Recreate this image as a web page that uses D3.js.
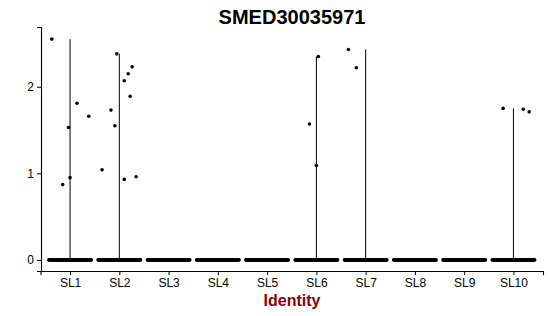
<!DOCTYPE html>
<html>
<head>
<meta charset="utf-8">
<script src="https://cdn.jsdelivr.net/npm/d3@7"></script>
<style>
  body { margin: 0; background: #fff; }
  text { font-family: "Liberation Sans", Arial, sans-serif; }
</style>
</head>
<body>
<svg id="chart" width="550" height="316"></svg>
<script>
// clusters on the x axis
var groups = ["SL1", "SL2", "SL3", "SL4", "SL5", "SL6", "SL7", "SL8", "SL9", "SL10"];

// expression of the non zero cells per cluster
var exprSL1 = [2.55, 0.87, 0.95, 1.53, 1.81, 1.66];
var exprSL2 = [2.38, 1.73, 1.55, 2.07, 2.15, 2.23, 1.89, 1.04, 0.93, 0.96];
var exprSL6 = [2.35, 1.57, 1.09];
var exprSL7 = [2.43, 2.22];
var exprSL10 = [1.75, 1.74, 1.71];

// jitter of those points, in fractions of a category
var jitSL1 = [-0.37, -0.15, 0.0, -0.03, 0.14, 0.38];
var jitSL2 = [-0.05, -0.17, -0.09, 0.1, 0.18, 0.26, 0.22, -0.35, 0.1, 0.34];
var jitSL6 = [0.04, -0.14, 0.0];
var jitSL7 = [-0.35, -0.19];
var jitSL10 = [-0.21, 0.2, 0.32];

// cells with zero expression in each cluster
var zeroCount = [80, 80, 80, 80, 80, 80, 80, 80, 80, 80];

var yTicks = [0, 1, 2];

var nonZero = {
  SL1: [exprSL1, jitSL1],
  SL2: [exprSL2, jitSL2],
  SL6: [exprSL6, jitSL6],
  SL7: [exprSL7, jitSL7],
  SL10: [exprSL10, jitSL10]
};

var svg = d3.select("#chart");

var x = d3.scalePoint().domain(groups).range([40.5, 543]).padding(0.6);
var y = d3.scaleLinear().domain([-0.128, 2.69]).range([271, 27]);
var step = x.step();

// build the cell table
var cells = [];
groups.forEach(function(g, gi) {
  for (var i = 0; i < zeroCount[gi]; i++) {
    cells.push({group: g, value: 0, jit: -0.43 + 0.86 * i / (zeroCount[gi] - 1)});
  }
  if (nonZero[g]) {
    nonZero[g][0].forEach(function(v, i) {
      cells.push({group: g, value: v, jit: nonZero[g][1][i]});
    });
  }
});

// degenerate violins: a line from min to max of each cluster
var ranges = groups.map(function(g) {
  var vals = cells.filter(function(c) { return c.group == g; }).map(function(c) { return c.value; });
  return {group: g, min: d3.min(vals), max: d3.max(vals)};
});

svg.append("g").selectAll("line")
  .data(ranges.filter(function(r) { return r.max > r.min; }))
  .enter().append("line")
  .attr("x1", function(d) { return x(d.group); })
  .attr("x2", function(d) { return x(d.group); })
  .attr("y1", function(d) { return y(d.min); })
  .attr("y2", function(d) { return y(d.max); })
  .attr("stroke", "#000")
  .attr("stroke-width", 1);

svg.append("g").selectAll("circle")
  .data(cells)
  .enter().append("circle")
  .attr("cx", function(d) { return x(d.group) + d.jit * step; })
  .attr("cy", function(d) { return y(d.value); })
  .attr("r", 1.8)
  .attr("fill", "#000");

// axes
var yAxis = svg.append("g")
  .attr("transform", "translate(41,0)")
  .call(d3.axisLeft(y).tickValues(yTicks).tickFormat(d3.format("d"))
    .tickSizeOuter(0).tickSize(4).tickPadding(3));

var xAxis = svg.append("g")
  .attr("transform", "translate(0,271)")
  .call(d3.axisBottom(x).tickSizeOuter(0).tickSize(4).tickPadding(3));

[yAxis, xAxis].forEach(function(a) {
  a.select(".domain").attr("stroke", "#000").attr("stroke-width", 1.1);
  a.selectAll(".tick line").attr("stroke", "#000");
  a.selectAll(".tick text").attr("fill", "#000").style("font-size", "12px");
});

// titles
svg.append("text")
  .attr("x", 292).attr("y", 24)
  .attr("text-anchor", "middle")
  .style("font-size", "20px").style("font-weight", "bold")
  .text("SMED30035971");

svg.append("text")
  .attr("x", 292).attr("y", 306)
  .attr("text-anchor", "middle")
  .attr("fill", "#8b0000")
  .style("font-size", "16px").style("font-weight", "bold")
  .text("Identity");
</script>
</body>
</html>
